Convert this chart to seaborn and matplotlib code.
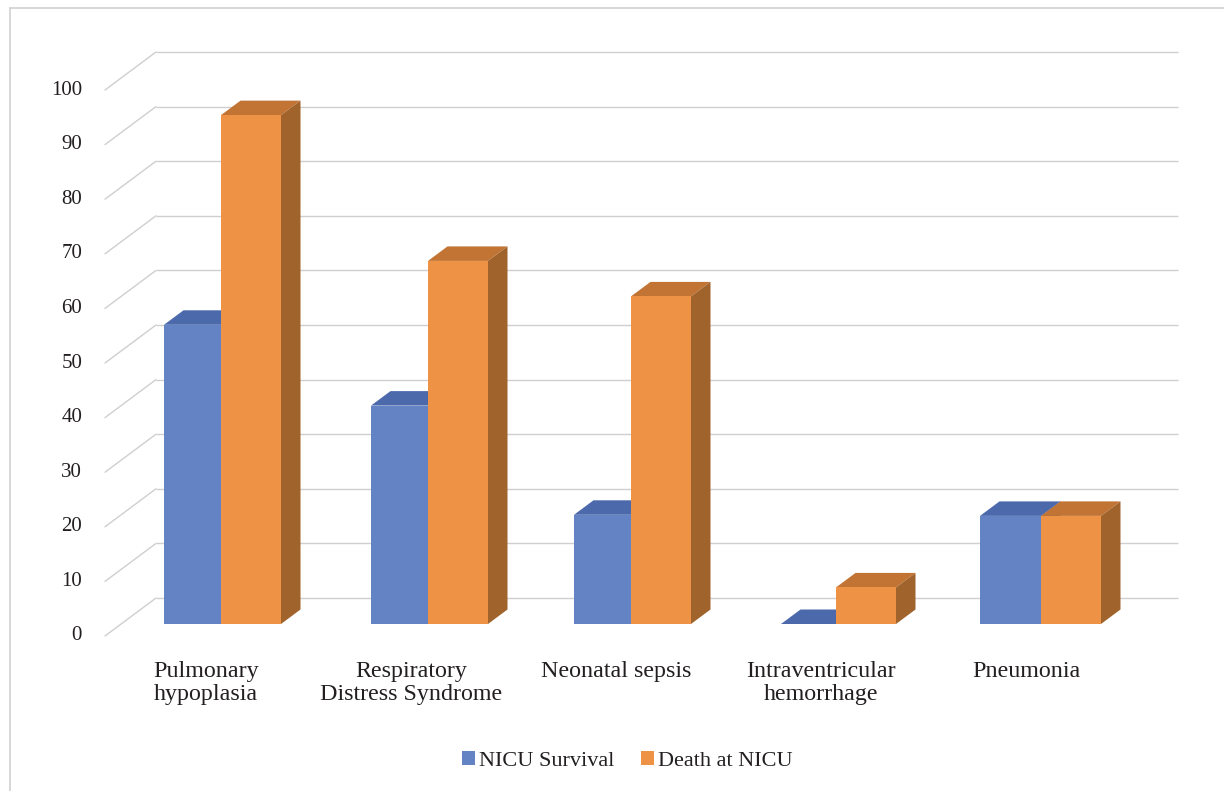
import matplotlib
matplotlib.use("Agg")
import matplotlib.pyplot as plt
import pandas as pd
import seaborn as sns
from matplotlib.lines import Line2D
from matplotlib.transforms import Affine2D

# Percentages per diagnosis
categories = ["Pulmonary\nhypoplasia", "Respiratory\nDistress Syndrome", "Neonatal sepsis",
              "Intraventricular\nhemorrhage", "Pneumonia"]
survival = [54.8, 40.0, 20.0, 0.0, 19.8]
death = [93.2, 66.5, 60.0, 6.7, 19.8]
y_ticks = list(range(0, 101, 10))

SURVIVAL = "NICU Survival"
DEATH = "Death at NICU"
COLORS = {SURVIVAL: "#6483C4", DEATH: "#EE9346"}
TOP_FACE = {SURVIVAL: "#4C6AAB", DEATH: "#C27434"}
SIDE_FACE = {SURVIVAL: "#46639F", DEATH: "#A1632C"}
GRID = "#CFCFCF"
INK = "#231F20"

W, H = 1224, 791
FLOOR, CEIL = 624, 78          # pixel rows of 0 and 100 on the bar plane
LEFT, RIGHT = 121, 1143
CENTER0, STEP = 221, 205       # pixel column of the first group, spacing of groups
PX = 1 / STEP
PY = 100 / (FLOOR - CEIL)

df = pd.DataFrame({
    "category": categories * 2,
    "series": [SURVIVAL] * len(categories) + [DEATH] * len(categories),
    "value": survival + death,
})

sns.set_theme(style="white")
plt.rcParams["font.family"] = ["Liberation Serif", "DejaVu Serif"]
plt.rcParams["text.color"] = INK

fig = plt.figure(figsize=(W / 100, H / 100), dpi=100, facecolor="white")
ax = fig.add_axes([LEFT / W, 1 - FLOOR / H, (RIGHT - LEFT) / W, (FLOOR - CEIL) / H])
ax.patch.set_alpha(0)

sns.barplot(data=df, x="category", y="value", hue="series", hue_order=[SURVIVAL, DEATH],
            palette=COLORS, saturation=1, width=2 * 60 / STEP, gap=0, linewidth=0,
            errorbar=None, ax=ax, zorder=4)

ax.set_xlim((LEFT - CENTER0) * PX, (RIGHT - CENTER0) * PX)
ax.set_ylim(0, 100)
ax.set_xlabel("")
ax.set_ylabel("")
sns.despine(ax=ax, left=True, bottom=True)

# Back wall and left wall of the chart box
wall_dx, wall_dy = 35 * PX, 26 * PY
front_dx, front_dy = 16 * PX, 12 * PY
x0, x1 = ax.get_xlim()
for v in y_ticks:
    ax.plot([x0 + wall_dx, x1 + wall_dx], [v + wall_dy] * 2, color=GRID, lw=1.0,
            clip_on=False, zorder=1, solid_capstyle="butt")
    ax.plot([x0 - front_dx, x0 + wall_dx], [v - front_dy, v + wall_dy], color=GRID, lw=1.0,
            clip_on=False, zorder=1)

# Small per-group corrections of the bar edges, in pixels
blue_width = [57, 57, 57, 55, 61]
group_nudge = [0, 2, 0, 0, 0]
depth_x, depth_y = 19.5 * PX, 14.5 * PY

for series, container, z in zip([SURVIVAL, DEATH], ax.containers, [2, 3]):
    for i, bar in enumerate(container):
        if series == SURVIVAL:
            right_edge = bar.get_x() + bar.get_width()
            bar.set_width(blue_width[i] * PX)
            bar.set_x(right_edge - blue_width[i] * PX)
        bar.set_x(bar.get_x() + group_nudge[i] * PX)
        xa, xb, top = bar.get_x(), bar.get_x() + bar.get_width(), bar.get_height()
        ax.fill([xa, xb, xb + depth_x, xa + depth_x],
                [top, top, top + depth_y, top + depth_y],
                color=TOP_FACE[series], lw=0, zorder=z, clip_on=False)
        ax.fill([xb, xb + depth_x, xb + depth_x, xb],
                [0, depth_y, top + depth_y, top],
                color=SIDE_FACE[series], lw=0, zorder=z, clip_on=False)

# Axis text
ax.set_yticks(y_ticks)
ax.tick_params(axis="y", length=0, pad=28, labelsize=15, labelcolor=INK)
ax.tick_params(axis="x", length=0, pad=26.5, labelsize=17.3, labelcolor=INK)
for label in ax.get_yticklabels():
    label.set_transform(label.get_transform() + Affine2D().translate(0, -9.5))
for label in ax.get_xticklabels():
    label.set_linespacing(1.16)
    label.set_transform(label.get_transform() + Affine2D().translate(-15, 0))

# Legend below the plot
handles, labels = ax.get_legend_handles_labels()
ax.legend(handles, labels, loc="center", bbox_to_anchor=(627.5 / W, 1 - 761 / H),
          bbox_transform=fig.transFigure, ncol=2, frameon=False, fontsize=16,
          handlelength=0.58, handleheight=0.58, handletextpad=0.18, columnspacing=1.2,
          labelcolor=INK, borderpad=0, borderaxespad=0)

# Thin frame along the top and left of the figure
frame = dict(color="#D4D4D4", lw=1.3, transform=fig.transFigure)
fig.add_artist(Line2D([9.5 / W, 1], [1 - 8 / H, 1 - 8 / H], **frame))
fig.add_artist(Line2D([9.5 / W, 9.5 / W], [1 - 8 / H, 0], **frame))

fig.savefig("out.png", dpi=100, facecolor="white")
